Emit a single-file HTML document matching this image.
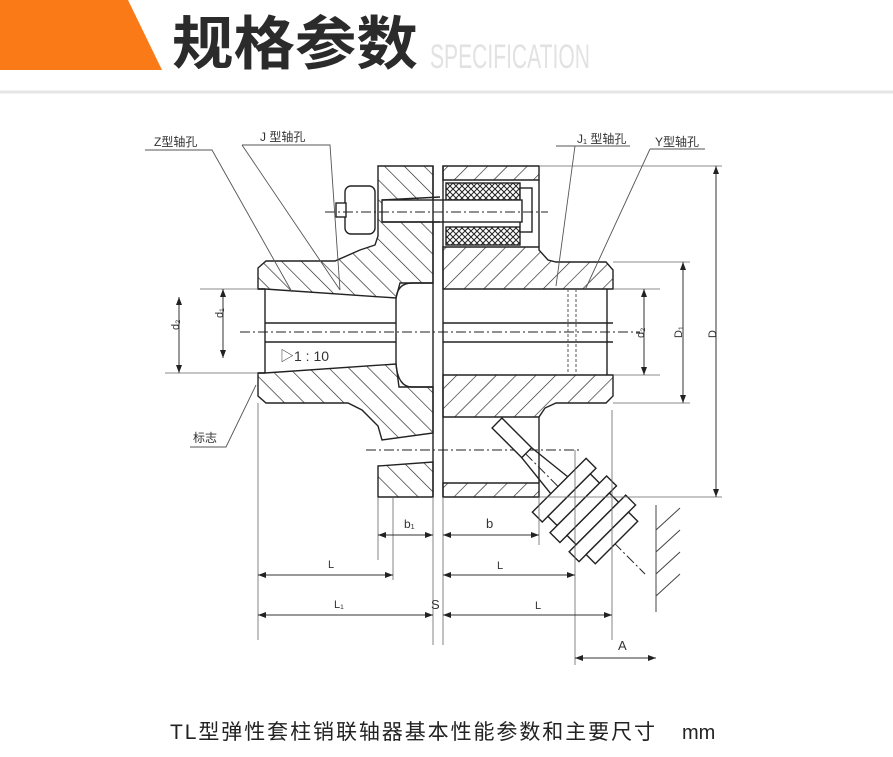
<!DOCTYPE html>
<html><head><meta charset="utf-8"><style>
html,body{margin:0;padding:0;background:#fff;}
body{width:893px;height:757px;overflow:hidden;position:relative;font-family:"Liberation Sans","Noto Sans CJK SC",sans-serif;}
</style></head><body>
<svg width="893" height="757" viewBox="0 0 893 757" xmlns="http://www.w3.org/2000/svg" style="position:absolute;left:0;top:0">
<defs>
<pattern id="hl" patternUnits="userSpaceOnUse" width="14" height="14" patternTransform="rotate(-45)">
<line x1="0" y1="0" x2="0" y2="14" stroke="#222" stroke-width="1.3"/></pattern>
<pattern id="hr" patternUnits="userSpaceOnUse" width="14" height="14" patternTransform="rotate(45)">
<line x1="0" y1="0" x2="0" y2="14" stroke="#222" stroke-width="1.3"/></pattern>
<pattern id="hx" patternUnits="userSpaceOnUse" width="6" height="6">
<path d="M0 0L6 6M6 0L0 6" stroke="#222" stroke-width="1"/></pattern>
<marker id="ar" markerWidth="8" markerHeight="6" refX="8" refY="3" orient="auto-start-reverse" markerUnits="userSpaceOnUse"><path d="M0 0L8 3L0 6z" fill="#222"/></marker>
</defs>
<polygon points="0,0 128,0 162,70 0,70" fill="#f97a16"/>
<text x="172" y="64" font-size="58" font-weight="bold" fill="#2b2b2b" font-family="'Noto Sans CJK SC',sans-serif" transform="translate(172 64) scale(1.06 1) translate(-172 -64)">规格参数</text>
<text x="430" y="68" font-size="34" fill="#e2e2e2" font-family="'Liberation Sans',sans-serif" transform="translate(430 68) scale(0.62 1) translate(-430 -68)">SPECIFICATION</text>
<line x1="0" y1="92" x2="893" y2="92" stroke="#e6e6e6" stroke-width="3"/>

<g stroke="#222" stroke-width="1.4" fill="none">
<polygon fill="url(#hl)" points="258,268 266,261 335,261 360,250 375,245 378,236 378,166 433,166 433,283 400,283 396,298 265,289 258,289"/>
<polygon fill="url(#hl)" points="258,373 265,373 396,364 399,387 433,387 433,433 382,440 378,426 362,410 348,403 266,403 258,396"/>
<polygon fill="url(#hl)" points="378,466 433,462 433,497 378,497"/>
<path d="M265 289 V373 M258 289 H265 M258 373 H265"/>
<path d="M396 298 Q398 283 412 283 H433 M396 364 Q398 387 412 387 H433"/>
<path d="M396 298 V364"/>
<polygon fill="url(#hr)" points="443,166 539,166 539,180 443,180"/>
<polygon fill="url(#hr)" points="443,247 539,247 539,250 548,260 556,262 606,262 613,270 613,289 443,289"/>
<polygon fill="url(#hr)" points="443,375 613,375 613,396 606,403 556,403 545,408 539,417 443,417"/>
<polygon fill="url(#hr)" points="443,483 539,483 539,497 443,497"/>
<path d="M539 180 V247 M539 417 V483"/>
<path d="M607 289 V375"/>
<path d="M265 323 H396 M265 342 H396 M443 323 H613 M443 342 H613"/>
<rect x="446" y="183" width="74" height="17" fill="url(#hx)"/>
<rect x="446" y="227" width="74" height="18" fill="url(#hx)"/>
<rect x="520" y="188" width="12" height="44" fill="#fff"/>
<rect x="382" y="200" width="140" height="22" fill="#fff"/>
<path d="M382 200 L440 197 M382 222 L440 222"/>
<rect x="345" y="186" width="30" height="48" rx="6" fill="#fff"/>
<rect x="336" y="203" width="10" height="14" fill="#fff"/>
<path d="M433 166 V497 M443 166 V497"/>
</g>
<g stroke="#222" stroke-width="1" stroke-dasharray="10,3,2,3" fill="none">
<line x1="240" y1="332" x2="640" y2="332"/>
<line x1="325" y1="212" x2="548" y2="212"/>
<line x1="366" y1="450" x2="582" y2="450"/>
<line x1="500" y1="428" x2="645" y2="574"/>
</g>
<g stroke="#555" stroke-width="1" stroke-dasharray="3,2"><line x1="568" y1="289" x2="568" y2="375"/><line x1="576" y1="289" x2="576" y2="375"/></g>
<g transform="translate(497 423) rotate(45)" stroke="#222" stroke-width="1.4" fill="#fff">
<rect x="0" y="-7" width="42" height="14"/>
<path d="M42 -7 L88 -12 M42 7 L88 12" fill="none"/>
<rect x="88" y="-38" width="14" height="76"/>
<rect x="102" y="-30" width="13" height="60"/>
<rect x="115" y="-40" width="14" height="80"/>
<rect x="129" y="-30" width="13" height="60"/>
<rect x="142" y="-40" width="14" height="80"/>
<rect x="156" y="-30" width="13" height="60"/>
</g>
<g stroke="#444" stroke-width="1" fill="none">
<line x1="656" y1="505" x2="656" y2="612"/>
<path d="M656 530 L680 508 M656 552 L680 530 M656 574 L680 552 M656 596 L680 574"/>
</g>
<g stroke="#555" stroke-width="0.9" fill="none">
<path d="M145 150 H212 L292 292"/>
<path d="M242 145 H330 L340 290 M242 145 L340 290"/>
<path d="M556 146 L630 146 M575 146 L556 286"/>
<path d="M650 149 H705 M650 149 L585 290"/>
<path d="M190 447 H226 L256 385"/>
</g>
<g stroke="#666" stroke-width="0.8" fill="none">
<path d="M539 166 H722 M613 262 H690 M613 289 H660 M613 375 H660 M613 403 H690 M539 497 H722"/>
<path d="M200 289 H258 M165 373 H258"/>
<path d="M258 403 V640 M378 497 V560 M393 497 V580 M433 497 V645 M443 497 V645 M539 497 V545 M575 450 V665 M612 410 V640"/>
</g>
<g stroke="#333" stroke-width="1" fill="none" marker-start="url(#ar)" marker-end="url(#ar)">
<line x1="716" y1="166" x2="716" y2="497"/>
<line x1="683" y1="262" x2="683" y2="403"/>
<line x1="644" y1="289" x2="644" y2="375"/>
<line x1="179" y1="297" x2="179" y2="373"/>
<line x1="223" y1="289" x2="223" y2="358"/>
<line x1="378" y1="535" x2="433" y2="535"/>
<line x1="443" y1="535" x2="539" y2="535"/>
<line x1="258" y1="575" x2="393" y2="575"/>
<line x1="443" y1="575" x2="575" y2="575"/>
<line x1="258" y1="615" x2="433" y2="615"/>
<line x1="443" y1="615" x2="612" y2="615"/>
<line x1="575" y1="658" x2="656" y2="658"/>
</g>
<g font-size="11" fill="#333">
<text x="708" y="338" transform="rotate(-90 712 334)">D</text>
<text x="674" y="338" transform="rotate(-90 678 334)">D₁</text>
<text x="636" y="338" transform="rotate(-90 640 334)">d₂</text>
<text x="171" y="330" transform="rotate(-90 175 326)">d₂</text>
<text x="215" y="318" transform="rotate(-90 219 314)">d₁</text>
<text x="404" y="528" font-size="12">b₁</text>
<text x="486" y="528" font-size="13">b</text>
<text x="328" y="568">L</text>
<text x="497" y="569">L</text>
<text x="334" y="608">L₁</text>
<text x="535" y="609">L</text>
<text x="431" y="609" font-size="13">S</text>
<text x="618" y="650" font-size="13">A</text>
<text x="154" y="146" font-size="12">Z型轴孔</text>
<text x="260" y="141" font-size="12">J 型轴孔</text>
<text x="577" y="143" font-size="12">J₁ 型轴孔</text>
<text x="655" y="146" font-size="12">Y型轴孔</text>
<text x="193" y="442" font-size="12">标志</text>
<text x="280" y="361" font-size="14">▷1 : 10</text>
</g>
<text x="170" y="739" font-size="21" fill="#222" textLength="485" lengthAdjust="spacing">TL型弹性套柱销联轴器基本性能参数和主要尺寸</text>
<text x="682" y="739" font-size="20" fill="#222">mm</text>
</svg>
</body></html>
